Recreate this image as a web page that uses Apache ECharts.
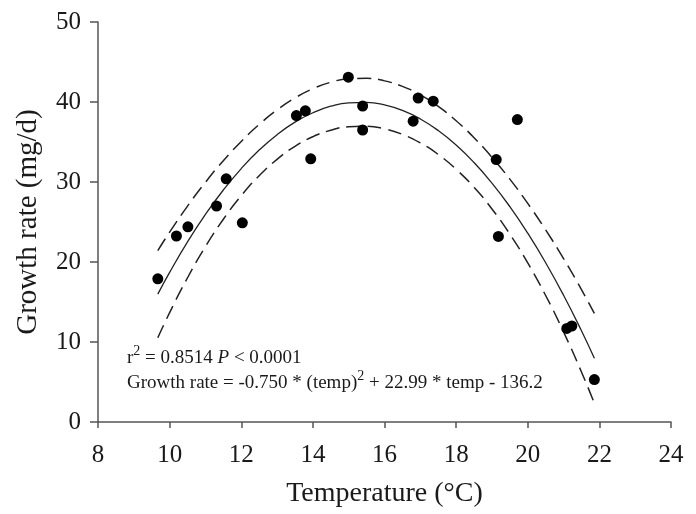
<!DOCTYPE html>
<html>
<head>
<meta charset="utf-8">
<script src="https://cdn.jsdelivr.net/npm/echarts@6/dist/echarts.min.js"></script>
<style>
html,body{margin:0;padding:0;background:#fff;}
#chart{width:696px;height:514px;}
</style>
</head>
<body>
<div id="chart"></div>
<script>
// Observed data points
var tempX = [9.67, 10.19, 10.51, 11.31, 11.58, 12.03, 13.54, 13.79, 13.94, 14.99, 15.39, 15.39, 16.80, 16.94, 17.36, 19.12, 19.18, 19.71, 21.09, 21.23, 21.86];
var growthY = [17.9, 23.25, 24.4, 27.0, 30.4, 24.9, 38.3, 38.9, 32.9, 43.1, 39.5, 36.5, 37.6, 40.5, 40.1, 32.8, 23.2, 37.8, 11.7, 12.0, 5.3];

// Fitted curve and confidence band
var curveX = [9.67, 10, 10.5, 11, 11.5, 12, 12.5, 13, 13.5, 14, 14.5, 15, 15.5, 16, 16.5, 17, 17.5, 18, 18.5, 19, 19.5, 20, 20.5, 21, 21.5, 21.86];
var fitY   = [15.98, 18.70, 22.51, 25.94, 29.00, 31.68, 33.99, 35.92, 37.48, 38.66, 39.47, 39.90, 39.96, 39.64, 38.95, 37.88, 36.44, 34.62, 32.43, 29.86, 26.92, 23.60, 19.91, 15.84, 11.40, 7.96];
var upperY = [21.43, 23.73, 26.99, 29.96, 32.66, 35.07, 37.19, 39.01, 40.50, 41.66, 42.47, 42.90, 42.96, 42.64, 41.95, 40.88, 39.44, 37.65, 35.53, 33.09, 30.36, 27.32, 24.01, 20.42, 16.55, 13.57];
var lowerY = [10.53, 13.67, 18.03, 21.92, 25.34, 28.29, 30.79, 32.83, 34.46, 35.66, 36.47, 36.90, 36.96, 36.64, 35.95, 34.88, 33.44, 31.59, 29.33, 26.63, 23.48, 19.88, 15.81, 11.26, 6.25, 2.35];

// Axis ticks
var xTicks = [8, 10, 12, 14, 16, 18, 20, 22, 24];
var yTicks = [0, 10, 20, 30, 40, 50];

function pairs(xs, ys) { return xs.map(function (x, i) { return [x, ys[i]]; }); }

var serif = "'Liberation Serif', 'Times New Roman', serif";
var ink = '#1a1a1a';
var chart = echarts.init(document.getElementById('chart'));
var option = {
  animation: false,
  backgroundColor: '#fff',
  grid: { left: 98, right: 25, top: 22, bottom: 92, containLabel: false },
  xAxis: {
    type: 'value', min: xTicks[0], max: xTicks[xTicks.length - 1], interval: 2,
    name: 'Temperature (°C)', nameLocation: 'middle', nameGap: 58,
    nameTextStyle: { fontFamily: serif, fontSize: 28, color: ink },
    axisLine: { show: true, lineStyle: { color: '#555', width: 1.5 } },
    axisTick: { show: true, inside: false, length: 6, lineStyle: { color: '#555', width: 1.5 } },
    axisLabel: { fontFamily: serif, fontSize: 25, color: ink, margin: 21 },
    splitLine: { show: false }
  },
  yAxis: {
    type: 'value', min: yTicks[0], max: yTicks[yTicks.length - 1], interval: 10,
    name: 'Growth rate (mg/d)', nameLocation: 'middle', nameGap: 55,
    nameTextStyle: { fontFamily: serif, fontSize: 29, color: ink },
    axisLine: { show: true, lineStyle: { color: '#555', width: 1.5 } },
    axisTick: { show: true, inside: false, length: 8, lineStyle: { color: '#555', width: 1.5 } },
    axisLabel: { fontFamily: serif, fontSize: 25, color: ink, margin: 17 },
    splitLine: { show: false }
  },
  series: [
    { type: 'line', data: pairs(curveX, upperY), smooth: true, showSymbol: false,
      lineStyle: { color: '#222', width: 1.5, type: [14, 7] }, z: 2 },
    { type: 'line', data: pairs(curveX, lowerY), smooth: true, showSymbol: false,
      lineStyle: { color: '#222', width: 1.5, type: [14, 7] }, z: 2 },
    { type: 'line', data: pairs(curveX, fitY), smooth: true, showSymbol: false,
      lineStyle: { color: '#222', width: 1.3 }, z: 2 },
    { type: 'scatter', data: pairs(tempX, growthY), symbol: 'circle', symbolSize: 11,
      itemStyle: { color: '#000', opacity: 1 }, z: 3 }
  ],
  graphic: [
    { type: 'text', x: 127, y: 344, style: {
        text: '{n|r}{s|2}{n| = 0.8514 }{i|P}{n| < 0.0001}',
        fill: ink,
        rich: {
          n: { fontFamily: serif, fontSize: 19, lineHeight: 28, color: ink },
          i: { fontFamily: serif, fontSize: 19, lineHeight: 28, fontStyle: 'italic', color: ink },
          s: { fontFamily: serif, fontSize: 14, lineHeight: 14, verticalAlign: 'top', color: ink }
        }
    } },
    { type: 'text', x: 127, y: 369, style: {
        text: '{n|Growth rate = -0.750 * (temp)}{s|2}{n| + 22.99 * temp - 136.2}',
        fill: ink,
        rich: {
          n: { fontFamily: serif, fontSize: 19, lineHeight: 28, color: ink },
          s: { fontFamily: serif, fontSize: 14, lineHeight: 14, verticalAlign: 'top', color: ink }
        }
    } }
  ]
};
chart.setOption(option);
</script>
</body>
</html>
